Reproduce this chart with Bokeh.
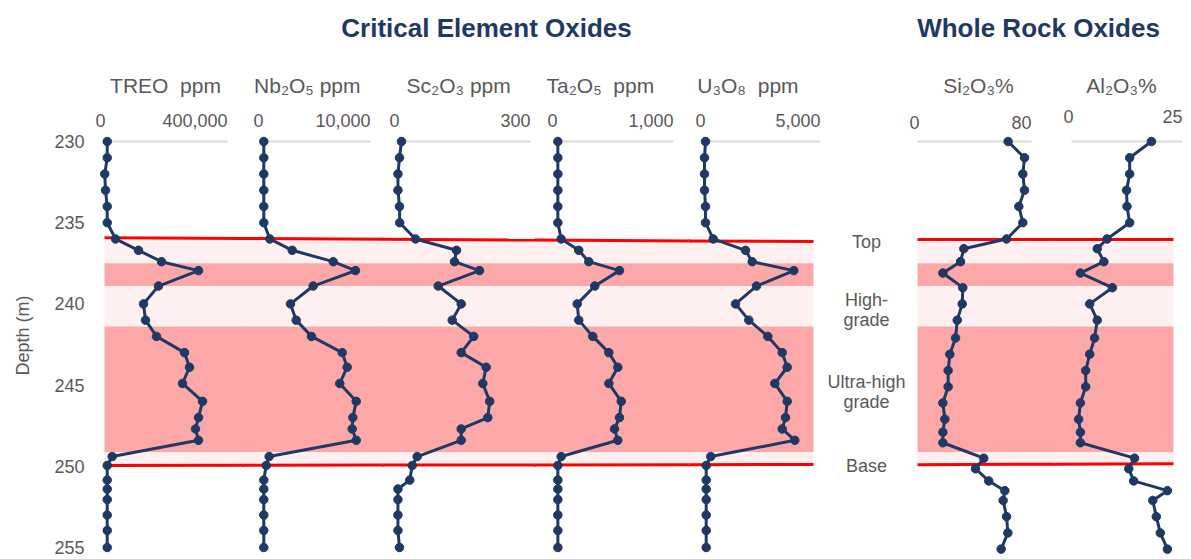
import numpy as np
from bokeh.plotting import figure
from bokeh.layouts import row, column
from bokeh.models import Range1d, FixedTicker, ColumnDataSource
from bokeh.core.properties import value
from bokeh.embed import file_html
from bokeh.resources import INLINE

# ---------------- data ----------------
depth_crit = [230, 231, 232, 233, 234, 235, 236.0, 236.7, 237.4, 237.95, 238.9, 240.0, 241.0,
              242.0, 243.0, 243.9, 244.9, 246.0, 247.0, 247.7, 248.4, 249.4, 249.95, 250.85,
              251.4, 252.05, 253.0, 253.95, 255.0]
depth_rock = [230, 231, 232, 233, 234, 235, 236.0, 236.6, 237.4, 238.1, 239.0, 240.0, 241.0,
              242.1, 243.1, 244.1, 245.1, 246.1, 247.1, 247.9, 248.55, 249.5, 250.15, 250.9,
              251.5, 252.1, 253.1, 254.1, 255.1]

treo = [12000, 12000, 4000, 6500, 12000, 12000, 38700, 112900, 187100, 306500, 177400, 129000,
        135500, 171000, 261300, 277400, 254800, 319400, 306500, 296800, 306500, 28100, 12000,
        12000, 12000, 12000, 12000, 12000, 12000]
nb2o5 = [210, 210, 210, 210, 210, 210, 760, 2820, 6580, 8620, 4740, 2660, 3180, 4590, 7400, 7860,
         7180, 8690, 8380, 8320, 8690, 700, 430, 210, 210, 210, 210, 210, 210]
sc2o3 = [9, 4.5, 1, 1, 4.5, 5, 40.6, 133, 128.6, 185, 91.8, 143.7, 123.4, 172, 143.7, 200, 192.4,
         208, 203.7, 143.7, 143.7, 44.4, 33.2, 27.7, 1, 1, 1, 1, 4.5]
ta2o5 = [20, 20, 20, 20, 20, 20, 48, 197, 282, 542, 333, 184, 197, 316, 452, 528, 452, 557, 542,
         500, 528, 48, 20, 20, 20, 20, 20, 20, 20]
u3o8 = [85, 43, 43, 43, 85, 85, 415, 1795, 2081, 3859, 2265, 1368, 1936, 2748, 3363, 3577, 3047,
        3577, 3504, 3363, 3902, 312, 115, 115, 115, 115, 115, 115, 115]
si2o3 = [63.6, 75.1, 73.9, 75.1, 71.1, 73.9, 62.5, 32.5, 30.2, 17.8, 31.8, 31.4, 27.9, 26.7, 22.7,
         21.5, 21.5, 17.8, 19.2, 17.8, 17.8, 46.5, 40.7, 50.0, 61.3, 60.1, 62.5, 63.4, 58.7]
al2o3 = [18.0, 13.1, 13.1, 12.4, 12.5, 13.1, 8.0, 5.8, 7.3, 2.0, 9.2, 4.1, 5.8, 5.2, 4.1, 3.2, 3.2,
         2.0, 1.6, 2.0, 2.0, 14.2, 12.9, 14.0, 21.6, 18.3, 19.1, 20.0, 21.6]

series = [treo, nb2o5, sc2o3, ta2o5, u3o8, si2o3, al2o3]
panel_titles = ["TREO\u00a0\u00a0ppm", "Nb\u2082O\u2085 ppm", "Sc\u2082O\u2083 ppm",
                "Ta\u2082O\u2085\u00a0\u00a0ppm", "U\u2083O\u2088\u00a0\u00a0ppm", "Si\u2082O\u2083%",
                "Al\u2082O\u2083%"]
axis_max = [400000, 10000, 300, 1000, 5000, 80, 25]
axis_max_labels = ["400,000", "10,000", "300", "1,000", "5,000", "80", "25"]
depth_ticks = [230, 235, 240, 245, 250, 255]

group_titles = ["Critical Element Oxides", "Whole Rock Oxides"]
zone_labels = ["Top", "High-", "grade", "Ultra-high", "grade", "Base"]
zone_label_depths = [236.16, 239.73, 241.0, 244.78, 246.07, 250.0]

band_top = [236.1, 237.5, 238.92, 241.39, 249.13]
band_bottom = [237.5, 238.92, 241.39, 249.13, 249.9]
band_kind = ["light", "dark", "light", "dark", "light"]

# contact lines: depth at left end, depth at right end
top_line = {"crit": (235.93, 236.16), "rock": (236.03, 236.03)}
base_line = {"crit": (249.95, 249.89), "rock": (249.9, 249.85)}

# ---------------- styling / layout ----------------
FONT = "Liberation Sans"
NAVY = "#1F3864"
GREY = "#595959"
AXIS_GREY = "#D9D9D9"
RED = "#FF0000"
BAND = {"light": "#FEF0F0", "dark": "#FDA8A8"}

# page-pixel layout: frame_left, frame_right, zero_px, max_px, group, title_frac, tick_label_depth
LAYOUT = [
    (95, 244, 103, 227, "crit", 0.50, 228.71),
    (244, 384, 261, 370, "crit", 0.42, 228.71),
    (384, 536, 397, 530, "crit", 0.46, 228.71),
    (536, 690, 555, 673, "crit", 0.38, 228.71),
    (690, 907, 703, 820, "crit", 0.38, 228.71),
    (907, 1056, 917, 1031, "rock", 0.535, 228.83),
    (1056, 1188, 1071, 1182, "rock", 0.45, 228.43),
]
GROUP_X = {"crit": (104, 813), "rock": (917, 1173)}
ZONE_LABEL_PX = 866
TITLE_DEPTH = 226.55
HEADER_H = 53
DEPTH_FIG_W = 36
OVERLAP = 2   # neighbouring panels overlap slightly so shaded bands join without seams

Y_TOP, Y_BOT = 224.581, 255.739
PANEL_H = 506
yr = Range1d(start=Y_BOT, end=Y_TOP)


def base_fig(width, x_range, y_range, height=PANEL_H, y_axis=None, transparent=False):
    p = figure(width=width, height=height, x_range=x_range, y_range=y_range,
               output_backend="svg", toolbar_location=None, min_border=0,
               x_axis_location=None, y_axis_location=y_axis, outline_line_color=None)
    p.background_fill_color = "white"
    p.border_fill_color = "white"
    if transparent:
        p.background_fill_alpha = 0
        p.border_fill_alpha = 0
    p.grid.grid_line_color = None
    return p


def make_panel(i):
    fl, fr, z, m, grp, tfrac, tick_y = LAYOUT[i]
    vmax = axis_max[i]
    s = vmax / (m - z)

    def to_val(px):
        return (px - z) * s

    if i == 0:
        border_left = fl - DEPTH_FIG_W
        fl_eff = fl
    else:
        border_left = 0
        fl_eff = fl - OVERLAP
    p = base_fig(fr - fl_eff + border_left, Range1d(to_val(fl_eff), to_val(fr)), yr,
                 y_axis="left" if i == 0 else None, transparent=True)
    if i == 0:
        p.min_border_left = border_left
        ax = p.yaxis[0]
        ax.ticker = FixedTicker(ticks=depth_ticks)
        ax.axis_line_color = None
        ax.major_tick_line_color = None
        ax.minor_tick_line_color = None
        ax.major_label_standoff = 5
        ax.major_label_text_font = FONT
        ax.major_label_text_font_size = "18px"
        ax.major_label_text_color = GREY
    else:
        p.margin = (0, 0, 0, -OVERLAP)

    depths = depth_crit if grp == "crit" else depth_rock
    gx0, gx1 = GROUP_X[grp]
    a, b = max(fl_eff, gx0), min(fr, gx1)
    if a < b:
        a_ext = a - 3 if a == fl_eff else a
        b_ext = b + 3 if b == fr else b
        p.quad(left=to_val(a_ext), right=to_val(b_ext), top=band_top, bottom=band_bottom,
               fill_color=[BAND[k] for k in band_kind], line_color=None)
        for (dl, dr) in (top_line[grp], base_line[grp]):
            ya = dl + (a_ext - gx0) / (gx1 - gx0) * (dr - dl)
            yb = dl + (b_ext - gx0) / (gx1 - gx0) * (dr - dl)
            p.segment(x0=[to_val(a_ext)], y0=[ya], x1=[to_val(b_ext)], y1=[yb],
                      line_color=RED, line_width=3)

    # axis line at top of the log
    p.segment(x0=[0], y0=[depth_ticks[0]], x1=[vmax], y1=[depth_ticks[0]],
              line_color=AXIS_GREY, line_width=2)

    src = ColumnDataSource(dict(x=series[i], y=depths))
    p.line("x", "y", source=src, line_color=NAVY, line_width=3)
    p.scatter("x", "y", source=src, size=8.5, fill_color=NAVY, line_color=NAVY)

    # tick labels
    p.text(x=[0], y=[tick_y], text=["0"], text_font=value(FONT), text_font_size="18px",
           text_color=GREY, text_align="center", text_baseline="middle", x_offset=-3)
    p.text(x=[vmax], y=[tick_y], text=[axis_max_labels[i]], text_font=value(FONT),
           text_font_size="18px", text_color=GREY, text_align="right", text_baseline="middle")
    # panel title
    p.text(x=[tfrac * vmax], y=[TITLE_DEPTH], text=[panel_titles[i]], text_font=value(FONT),
           text_font_size="21px", text_color=GREY, text_align="center", text_baseline="middle")

    if i == 4:
        p.text(x=[to_val(ZONE_LABEL_PX)] * len(zone_labels), y=zone_label_depths, text=zone_labels,
               text_font=value(FONT), text_font_size="18px", text_color=GREY,
               text_align="center", text_baseline="middle")
    return p


panels = [make_panel(i) for i in range(7)]
total_w = LAYOUT[-1][1]

# header with group titles
header = base_fig(total_w, Range1d(0, total_w), Range1d(HEADER_H, 0), height=HEADER_H)
header.text(x=[486, 1038], y=[27, 27], text=group_titles, text_font=value(FONT),
            text_font_size="26px", text_font_style="bold", text_color=NAVY,
            text_align="center", text_baseline="middle")

# depth axis title
dfig = base_fig(DEPTH_FIG_W, Range1d(0, DEPTH_FIG_W), yr)
dfig.text(x=[22], y=[241.95], text=["Depth (m)"], text_font=value(FONT), text_font_size="18px",
          text_color=GREY, text_align="center", text_baseline="middle", angle=np.pi / 2)

layout = column(header, row(dfig, *panels, spacing=0), spacing=0)

open("out.html", "w").write(file_html(layout, INLINE))
